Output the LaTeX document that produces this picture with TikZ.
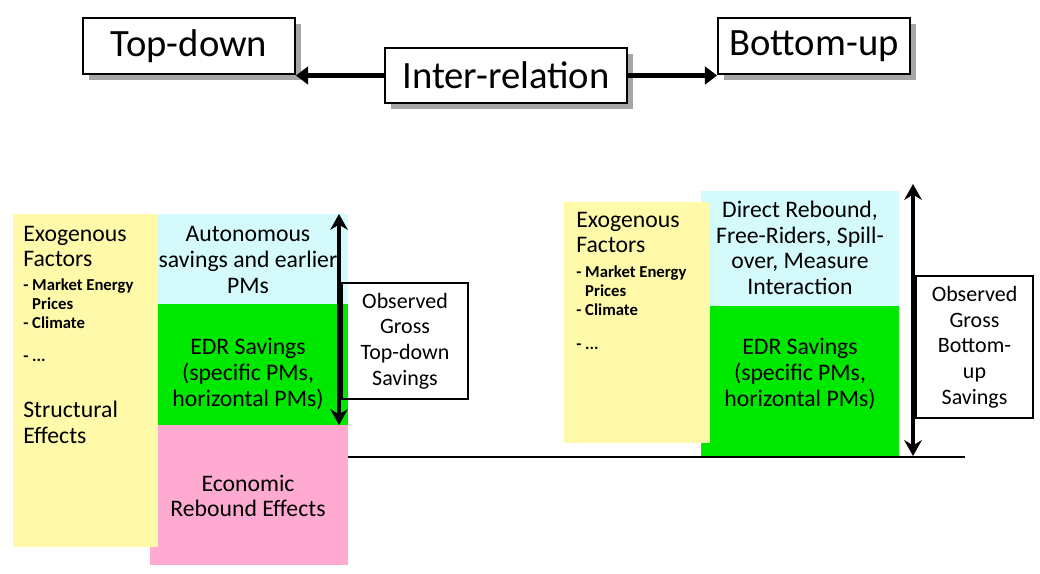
\documentclass[tikz,border=0pt]{standalone}
\usepackage{fontspec}
\setmainfont{Carlito}
\usetikzlibrary{shadows,arrows.meta}

\definecolor{exoyellow}{RGB}{255,250,170}
\definecolor{autocyan}{RGB}{212,250,252}
\definecolor{edrgreen}{RGB}{0,232,0}
\definecolor{ecopink}{RGB}{255,170,208}

\begin{document}
\begin{tikzpicture}[x=0.02cm,y=-0.02cm,
    head/.style={draw,line width=1pt,fill=white,inner sep=0pt,
      font=\fontsize{22}{26}\selectfont,
      drop shadow={shadow xshift=0.12cm,shadow yshift=-0.12cm,fill=black!35,opacity=1}},
    boxtext/.style={align=center,inner sep=0pt,font=\fontsize{13.5}{14.6}\selectfont},
    exotext/.style={align=left,inner sep=0pt,anchor=north west,font=\fontsize{13.5}{14.4}\selectfont},
    exosmall/.style={align=left,inner sep=0pt,anchor=north west,font=\fontsize{9.5}{11}\selectfont\bfseries},
    obsbox/.style={draw,line width=0.8pt,align=center,inner sep=0pt,font=\fontsize{12.5}{14.6}\selectfont},
    bigarrow/.style={line width=2.8pt,-{Triangle[length=7pt,width=10pt]}},
    dblarrow/.style={line width=2.3pt,{Stealth[length=9pt,width=10pt]}-{Stealth[length=9pt,width=10pt]}}]
  \useasboundingbox (0,0) rectangle (1040,574);

  % header
  \node[head,minimum width=4.24cm,minimum height=1.12cm] (topdown) at (189,46) {Top-down};
  \node[head,minimum width=4.84cm,minimum height=1.1cm] (inter) at (506,75.5) {Inter-relation};
  \node[head,minimum width=3.84cm,minimum height=1.12cm] (bottomup) at (814,46) {Bottom-up};
  \draw[bigarrow] (inter.west) -- (inter.west -| topdown.east);
  \draw[bigarrow] (inter.east) -- (inter.east -| bottomup.west);

  % top-down column
  \fill[ecopink] (150,425) rectangle (348,565);
  \fill[autocyan] (158,214) rectangle (348,304);
  \fill[edrgreen] (158,304) rectangle (348,425);
  \fill[exoyellow] (13,214) rectangle (158,547);
  \node[exotext] (exoL) at (23,226) {Exogenous\\Factors};
  \node[exosmall] (mktL) at (23,278) {- Market Energy\\\phantom{- }Prices\\- Climate};
  \node[exosmall,anchor=base west] (dotsL) at (23,361) {- ...};
  \node[exotext] (strucL) at (23,401) {Structural\\Effects};
  \node[boxtext] (autoL) at (248,260) {Autonomous\\savings and earlier\\PMs};
  \node[boxtext] (edrL) at (248,374) {EDR Savings\\(specific PMs,\\horizontal PMs)};
  \node[boxtext] (ecoL) at (248,496) {Economic\\Rebound Effects};
  \node[obsbox,minimum width=2.52cm,minimum height=2.32cm] (obsL) at (405,341)
    {Observed\\Gross\\Top-down\\Savings};
  \coordinate (ltop) at (339,214);
  \coordinate (lbot) at (339,425);
  \draw[dblarrow] (ltop) -- (lbot);

  % bottom-up column
  \fill[autocyan] (701,191) rectangle (899,306);
  \fill[edrgreen] (701,306) rectangle (899,456);
  \fill[exoyellow] (564,202) rectangle (710,443);
  \node[exotext] (exoR) at (576,212) {Exogenous\\Factors};
  \node[exosmall] (mktR) at (576,265) {- Market Energy\\\phantom{- }Prices\\- Climate};
  \node[exosmall,anchor=base west] (dotsR) at (576,349) {- ...};
  \node[boxtext] (directR) at (800,248) {Direct Rebound,\\Free-Riders, Spill-\\over, Measure\\Interaction};
  \node[boxtext] (edrR) at (800,374) {EDR Savings\\(specific PMs,\\horizontal PMs)};
  \node[obsbox,minimum width=2.34cm,minimum height=2.84cm] (obsR) at (974.5,347)
    {Observed\\Gross\\Bottom-\\up\\Savings};
  \coordinate (rtop) at (913,184);
  \coordinate (rbot) at (913,456);
  \draw[dblarrow] (rtop) -- (rbot);

  % base line
  \coordinate (base0) at (348,457);
  \coordinate (base1) at (965,457);
  \draw[line width=0.8pt] (base0) -- (base1);
\end{tikzpicture}
\end{document}
